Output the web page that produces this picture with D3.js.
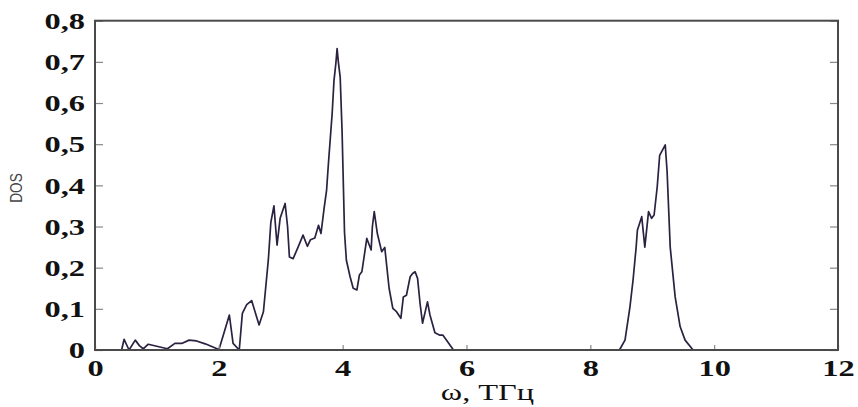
<!DOCTYPE html>
<html><head><meta charset="utf-8">
<script src="https://cdn.jsdelivr.net/npm/d3@7"></script>
<style>html,body{margin:0;padding:0;background:#fff;}svg{display:block;}</style>
</head><body>
<svg id="chart" width="858" height="407"></svg>
<script>
const omega = [0, 0.43, 0.47, 0.55, 0.65, 0.72, 0.78, 0.86, 1.17, 1.29, 1.40, 1.52, 1.64, 1.78, 1.99,
  2.00, 2.17, 2.23, 2.33, 2.38, 2.45, 2.53, 2.65, 2.72, 2.80, 2.84, 2.89, 2.94, 2.99, 3.07, 3.11, 3.14,
  3.20, 3.28, 3.36, 3.43, 3.48, 3.55, 3.61, 3.65, 3.70, 3.74, 3.77, 3.81, 3.83, 3.86, 3.89, 3.91, 3.93,
  3.96, 3.99, 4.03, 4.06, 4.12, 4.17, 4.23, 4.27, 4.31, 4.39, 4.46, 4.48, 4.51, 4.56, 4.63, 4.68, 4.75,
  4.81, 4.87, 4.94, 4.98, 5.03, 5.09, 5.13, 5.17, 5.21, 5.25, 5.29, 5.37, 5.41, 5.49, 5.57, 5.62, 5.79,
  8.47, 8.56, 8.64, 8.69, 8.74, 8.76, 8.83, 8.88, 8.94, 8.99, 9.03, 9.08, 9.12, 9.18, 9.21, 9.24, 9.29,
  9.37, 9.45, 9.53, 9.66, 12];
const dos = [0, 0, 0.026, 0, 0.024, 0.010, 0.003, 0.014, 0.003, 0.016, 0.016, 0.024, 0.022, 0.015, 0.002,
  0, 0.085, 0.016, 0, 0.089, 0.110, 0.120, 0.061, 0.093, 0.220, 0.310, 0.350, 0.255, 0.320, 0.356, 0.300, 0.226,
  0.222, 0.250, 0.279, 0.252, 0.268, 0.272, 0.303, 0.283, 0.344, 0.388, 0.453, 0.534, 0.574, 0.655, 0.696, 0.732, 0.700,
  0.663, 0.534, 0.285, 0.218, 0.178, 0.150, 0.146, 0.182, 0.190, 0.271, 0.243, 0.300, 0.336, 0.283, 0.239, 0.249, 0.150,
  0.101, 0.093, 0.077, 0.129, 0.133, 0.178, 0.186, 0.190, 0.174, 0.113, 0.065, 0.117, 0.085, 0.042, 0.036, 0.036, 0,
  0, 0.024, 0.105, 0.170, 0.250, 0.291, 0.324, 0.250, 0.336, 0.320, 0.328, 0.396, 0.473, 0.490, 0.498, 0.433, 0.250,
  0.129, 0.057, 0.024, 0, 0];
const xTicks = [0, 2, 4, 6, 8, 10, 12];
const yTicks = [0, 0.1, 0.2, 0.3, 0.4, 0.5, 0.6, 0.7, 0.8];
const xLabel = "ω, ТГц";
const yLabel = "DOS";

const svg = d3.select("#chart");
const L = 95, R = 838, T = 20.7, B = 350;
const x = d3.scaleLinear().domain([0, 12]).range([L, R]);
const y = d3.scaleLinear().domain([0, 0.8]).range([B, T]);
const SX = 1.35;
const fmt = d => d === 0 ? "0" : d3.format(".1f")(d).replace(".", ",");
const serif = "'Liberation Serif','Times New Roman',serif";
const frameCol = "#4a4a4a";

// curve
const line = d3.line().x((d, i) => x(omega[i])).y(d => y(d));
svg.append("path").datum(dos).attr("d", line)
  .attr("fill", "none").attr("stroke", "#2b2140").attr("stroke-width", 1.7)
  .attr("stroke-linejoin", "round");

// left axis
const gl = svg.append("g").attr("transform", `translate(${L},0)`)
  .call(d3.axisLeft(y).tickValues(yTicks).tickFormat(fmt).tickSizeInner(-8).tickSizeOuter(0).tickPadding(7.4));
// right axis ticks only
const gr = svg.append("g").attr("transform", `translate(${R},0)`)
  .call(d3.axisRight(y).tickValues(yTicks).tickFormat("").tickSizeInner(-8).tickSizeOuter(0));
// bottom axis
const gb = svg.append("g").attr("transform", `translate(0,${B})`)
  .call(d3.axisBottom(x).tickValues(xTicks).tickFormat(d3.format("d")).tickSizeInner(-5).tickSizeOuter(0).tickPadding(9));

[gl, gr, gb].forEach(g => {
  g.select(".domain").remove();
  g.selectAll("line").attr("stroke", "#888").attr("stroke-width", 1.2);
});
[gl, gb].forEach(g => {
  g.selectAll("text").attr("font-family", serif).attr("font-weight", "bold")
    .attr("font-size", 24).attr("fill", "#111").attr("transform", `scale(${SX},1)`);
});

// frame
svg.append("rect").attr("x", L).attr("y", T).attr("width", R - L).attr("height", B - T)
  .attr("fill", "none").attr("stroke", frameCol).attr("stroke-width", 2);

// axis titles
svg.append("text").attr("transform", `translate(${(L + R) / 2 + 21},400) scale(${SX},1)`)
  .attr("text-anchor", "middle").attr("font-family", serif).attr("font-size", 24).attr("fill", "#111")
  .text(xLabel);
svg.append("text").attr("transform", "translate(22,188) rotate(-90) scale(0.85,1)")
  .attr("text-anchor", "middle").attr("font-family", "'Liberation Sans',Arial,sans-serif")
  .attr("font-size", 16).attr("fill", "#444").text(yLabel);
</script>
</body></html>
